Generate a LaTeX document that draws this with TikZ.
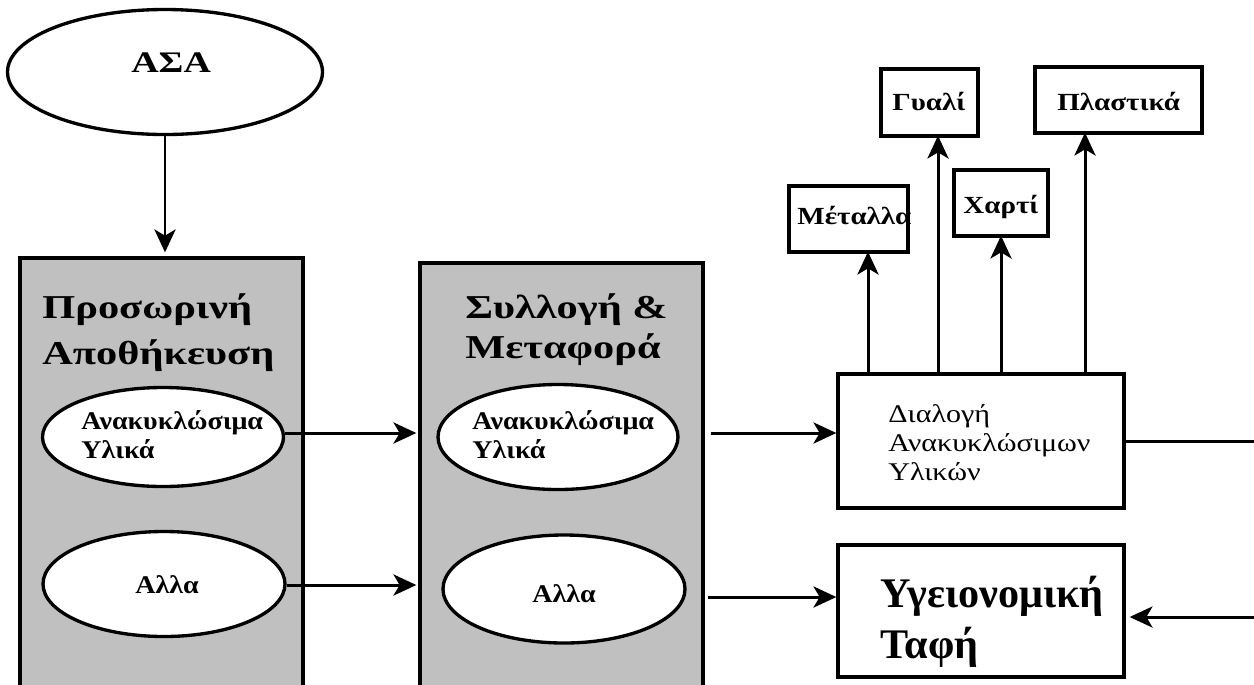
\documentclass[tikz,border=0pt]{standalone}
\usepackage{fontspec}
\setmainfont{Liberation Serif}
\newfontfamily\widest[FakeStretch=1.27]{Liberation Serif}
\newfontfamily\wider[FakeStretch=1.18]{Liberation Serif}
\newfontfamily\wide[FakeStretch=1.1]{Liberation Serif}
\usetikzlibrary{shapes.geometric,arrows.meta,calc}

\definecolor{panelgray}{RGB}{192,192,192}
\tikzset{
  px/.style={x=0.02cm,y=-0.02cm},
  outline/.style={draw=black,line width=1.9pt},
  panel/.style={outline,rectangle,fill=panelgray,inner sep=0pt},
  oval/.style={outline,ellipse,fill=white,inner sep=0pt},
  box/.style={outline,rectangle,fill=white,inner sep=0pt},
  arr/.style={line width=1.7pt,-{Stealth[length=13pt,width=12pt,inset=3.5pt]}},
  lbl/.style={inner sep=0pt,anchor=base west},
  title/.style={lbl,font=\widest\fontsize{19}{22}\selectfont\bfseries},
  ovallbl/.style={lbl,font=\wide\fontsize{14.5}{17}\selectfont\bfseries},
  matlbl/.style={lbl,font=\wider\fontsize{14}{16}\selectfont\bfseries},
  sortlbl/.style={lbl,font=\wider\fontsize{14.5}{17}\selectfont},
  burylbl/.style={lbl,font=\fontsize{24}{28}\selectfont\bfseries},
}

\begin{document}
\begin{tikzpicture}[px]
  \useasboundingbox (0,0) rectangle (1254,684);
  \clip (0,0) rectangle (1254,684);

  % source of the waste
  \node[oval,minimum width=315*0.02cm,minimum height=125*0.02cm] (asa) at (165,72) {};
  \node[title,font=\widest\fontsize{17}{20}\selectfont\bfseries] (asatext) at (131,72) {ΑΣΑ};

  % temporary storage panel
  \node[panel,minimum width=283*0.02cm,minimum height=442*0.02cm] (store) at (161.5,479) {};
  \node[title] (storeA) at (42,318) {Προσωρινή};
  \node[title] (storeB) at (42,364) {Αποθήκευση};
  \node[oval,minimum width=241*0.02cm,minimum height=99*0.02cm] (e1) at (163,437) {};
  \node[ovallbl] (e1A) at (81,429) {Ανακυκλώσιμα};
  \node[ovallbl] (e1B) at (81,458) {Υλικά};
  \node[oval,minimum width=242*0.02cm,minimum height=105*0.02cm] (e2) at (164,584) {};
  \node[ovallbl] (e2A) at (135,593) {Αλλα};

  % collection and transport panel
  \node[panel,minimum width=283*0.02cm,minimum height=437*0.02cm] (collect) at (561.5,481.5) {};
  \node[title] (collectA) at (465,318) {Συλλογή \&};
  \node[title] (collectB) at (465,358) {Μεταφορά};
  \node[oval,minimum width=240*0.02cm,minimum height=105*0.02cm] (e3) at (558,437) {};
  \node[ovallbl] (e3A) at (472,429) {Ανακυκλώσιμα};
  \node[ovallbl] (e3B) at (472,458) {Υλικά};
  \node[oval,minimum width=242*0.02cm,minimum height=108*0.02cm] (e4) at (564,589) {};
  \node[ovallbl] (e4A) at (532,602) {Αλλα};

  % sorting and landfill
  \node[box,minimum width=286*0.02cm,minimum height=134*0.02cm] (sort) at (981,441) {};
  \node[sortlbl] (sortA) at (888,422) {Διαλογή};
  \node[sortlbl] (sortB) at (888,451) {Ανακυκλώσιμων};
  \node[sortlbl] (sortC) at (888,480) {Υλικών};
  \node[box,minimum width=286*0.02cm,minimum height=132*0.02cm] (landfill) at (981,611) {};
  \node[burylbl] (buryA) at (880,607) {Υγειονομική};
  \node[burylbl] (buryB) at (880,658) {Ταφή};

  % recovered material streams
  \node[box,minimum width=119*0.02cm,minimum height=66*0.02cm] (metal) at (848.5,219) {};
  \node[matlbl] (metaltext) at (797,224) {Μέταλλα};
  \node[box,minimum width=97*0.02cm,minimum height=67*0.02cm] (glass) at (929.5,102.5) {};
  \node[matlbl] (glasstext) at (892,110) {Γυαλί};
  \node[box,minimum width=94*0.02cm,minimum height=66*0.02cm] (paper) at (1001,203) {};
  \node[matlbl] (papertext) at (963,213) {Χαρτί};
  \node[box,minimum width=167*0.02cm,minimum height=66*0.02cm] (plastic) at (1118.5,100) {};
  \node[matlbl] (plastictext) at (1057,110) {Πλαστικά};

  % flows
  \draw[arr] (asa.south) -- ($(asa.south |- store.north)+(0,-4)$);
  \draw[arr] ($(e1.east)+(0,-4)$) -- ($(collect.west |- e1.east)+(-2,-4)$);
  \draw[arr] ($(e2.east)+(0,1)$) -- ($(collect.west |- e2.east)+(-2,1)$);
  \draw[arr] ($(collect.east |- e3)+(6,-4)$) -- ($(sort.west |- e3)+(0,-4)$);
  \draw[arr] ($(collect.east |- e4)+(3,8)$) -- ($(landfill.west |- e4)+(0,8)$);

  \coordinate (mT) at ($(metal.south)+(19.5,-2)$);
  \coordinate (gT) at ($(glass.south)+(8.5,-2)$);
  \coordinate (pT) at ($(paper.south)+(0,-2)$);
  \coordinate (lT) at ($(plastic.south)+(-33.5,-2)$);
  \draw[arr] (mT |- sort.north) -- (mT);
  \draw[arr] (gT |- sort.north) -- (gT);
  \draw[arr] (pT |- sort.north) -- (pT);
  \draw[arr] (lT |- sort.north) -- (lT);

  % residue from sorting goes on to the landfill
  \coordinate (edge) at (1262,0);
  \coordinate (lfin) at ($(landfill.east)+(4,6)$);
  \draw[arr] (sort.east) -| (edge |- lfin) -- (lfin);
\end{tikzpicture}
\end{document}
